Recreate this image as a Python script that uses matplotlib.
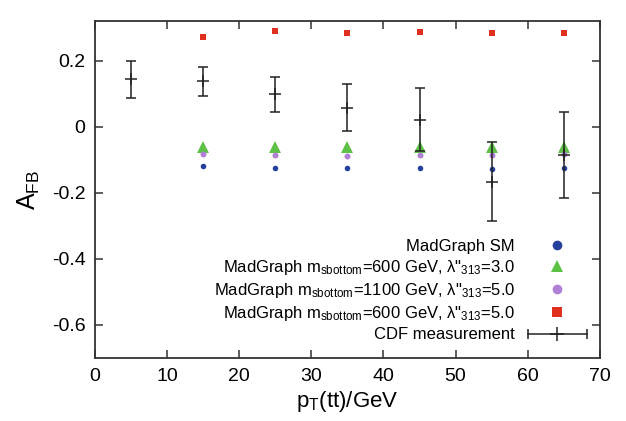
import matplotlib
matplotlib.use("Agg")
import matplotlib.pyplot as plt
from matplotlib.legend_handler import HandlerBase
from matplotlib.lines import Line2D
import numpy as np

plt.rcParams['font.family'] = ['Liberation Sans', 'DejaVu Sans']
plt.rcParams['mathtext.fontset'] = 'custom'
plt.rcParams['mathtext.rm'] = 'Liberation Sans'
plt.rcParams['mathtext.it'] = 'Liberation Sans'

# data
pt_mc = [15, 25, 35, 45, 55, 65]
sm = [-0.120, -0.124, -0.124, -0.124, -0.127, -0.124]
sb600_l3 = [-0.062, -0.062, -0.062, -0.062, -0.062, -0.062]
sb1100_l5 = [-0.083, -0.086, -0.089, -0.086, -0.086, -0.084]
sb600_l5 = [0.271, 0.289, 0.283, 0.286, 0.283, 0.283]

pt_cdf = [5, 15, 25, 35, 45, 55, 65]
cdf = [0.144, 0.137, 0.099, 0.058, 0.021, -0.166, -0.086]
cdf_err = [0.056, 0.044, 0.053, 0.072, 0.095, 0.120, 0.131]

labels = ["MadGraph SM",
          r'MadGraph m$_{\rm sbottom}$=600 GeV, λ"$_{\rm 313}$=3.0',
          r'MadGraph m$_{\rm sbottom}$=1100 GeV, λ"$_{\rm 313}$=5.0',
          r'MadGraph m$_{\rm sbottom}$=600 GeV, λ"$_{\rm 313}$=5.0',
          "CDF measurement"]

c_blue = '#253f9c'
c_green = '#5cc144'
c_purple = '#b07fd6'
c_red = '#e02f1f'

fig = plt.figure(figsize=(6.26, 4.21), dpi=100)
ax = fig.add_axes([0.152, 0.150, 0.806, 0.800])

h1, = ax.plot(pt_mc, sm, 'o', color=c_blue, ms=4.0, mew=0, zorder=3)
h2, = ax.plot(pt_mc, sb600_l3, '^', color=c_green, ms=8.5, mew=0, zorder=3)
h3, = ax.plot(pt_mc, sb1100_l5, 'o', color=c_purple, ms=4.3, mew=0, zorder=3)
h4, = ax.plot(pt_mc, sb600_l5, 's', color=c_red, ms=4.5, mew=0, zorder=3)
ax.errorbar(pt_cdf, cdf, yerr=cdf_err, fmt='+', color='#222222', ms=9,
            mew=1.1, elinewidth=1.1, capsize=3.5, capthick=1.1, zorder=4)


class ErrHandler(HandlerBase):
    def create_artists(self, legend, orig_handle, xdescent, ydescent,
                       width, height, fontsize, trans):
        y = height / 2 - ydescent
        x0, x1 = -xdescent, width - xdescent
        line = Line2D([x0, x1], [y, y], color='#222222', lw=1.1, transform=trans)
        caps = Line2D([x0, x1], [y, y], ls='none', marker='|', ms=7,
                      mew=1.1, color='#222222', transform=trans)
        cen = Line2D([(x0 + x1) / 2], [y], ls='none', marker='+', ms=10,
                     mew=1.1, color='#222222', transform=trans)
        return [line, caps, cen]


proxy = Line2D([], [])
leg = ax.legend([h1, h2, h3, h4, proxy], labels, loc='lower right',
                bbox_to_anchor=(0.974, 0.046), frameon=False, markerfirst=False,
                fontsize=12, handlelength=3.5, handletextpad=0.8,
                labelspacing=0.25, borderpad=0, borderaxespad=0,
                handler_map={proxy: ErrHandler()})
for hd, s in zip(leg.legend_handles[:4], [7, 8.5, 7, 7]):
    hd.set_markersize(s)

ax.set_xlim(0, 70)
ax.set_ylim(-0.70, 0.32)
ax.set_xticks(np.arange(0, 71, 10))
ax.set_yticks([-0.6, -0.4, -0.2, 0, 0.2])
ax.set_yticklabels(['-0.6', '-0.4', '-0.2', '0', '0.2'])
ax.tick_params(direction='in', top=True, right=True, length=6, width=1.1,
               labelsize=14, pad=7, color='#333333')
for s in ax.spines.values():
    s.set_linewidth(1.3)
    s.set_color('#333333')

ax.set_xlabel(r'p$_{\rm T}$(tt)/GeV', fontsize=16, labelpad=3)
ax.set_ylabel(r'A$_{\rm FB}$', fontsize=18, labelpad=7)

fig.savefig('out.png', dpi=100)
